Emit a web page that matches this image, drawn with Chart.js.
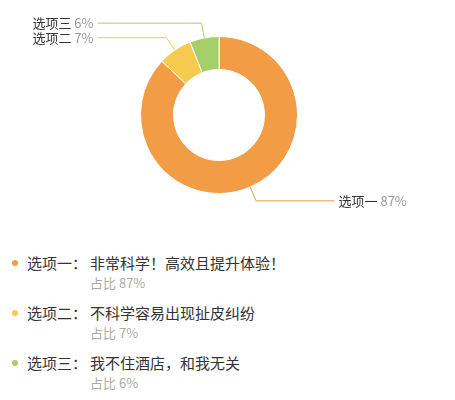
<!DOCTYPE html>
<html>
<head>
<meta charset="utf-8">
<script src="https://cdn.jsdelivr.net/npm/chart.js@4/dist/chart.umd.min.js"></script>
<style>
  body { margin: 0; background: #fff; font-family: "Noto Sans CJK SC", "Noto Sans", sans-serif; }
  #wrap { position: relative; width: 455px; height: 400px; overflow: hidden; }
  #chart-box { position: absolute; left: 0; top: 0; width: 455px; height: 230px; }
  #legend { position: absolute; left: 0; top: 253px; width: 455px; }
  .row { position: relative; height: 50px; }
  .dot { position: absolute; left: 12px; top: 7px; width: 6px; height: 6px; border-radius: 50%; }
  .name { position: absolute; left: 27px; top: 0; line-height: 20px; font-size: 15px; color: #333; }
  .desc { position: absolute; left: 90px; top: 0; line-height: 20px; font-size: 15px; color: #333; }
  .share { position: absolute; left: 90px; top: 20px; line-height: 20px; font-size: 13px; color: #aaa; }
</style>
</head>
<body>
<div id="wrap">
  <div id="chart-box"><canvas id="pie"></canvas></div>
  <div id="legend"></div>
</div>
<script>
const categories = ['选项一', '选项二', '选项三'];
const descriptions = ['非常科学！高效且提升体验！', '不科学容易出现扯皮纠纷', '我不住酒店，和我无关'];
const shares = [87, 7, 6];
const colors = ['#F29C45', '#F6C94F', '#A6CF6A'];

// leader lines + outside labels, placed from the arc geometry
const outsideLabels = {
    id: 'outsideLabels',
    afterDatasetsDraw(chart) {
        const ctx = chart.ctx;
        const arcs = chart.getDatasetMeta(0).data;
        const items = arcs.map((arc, i) => {
            const p = arc.getProps(['x', 'y', 'startAngle', 'endAngle', 'outerRadius'], true);
            const mid = (p.startAngle + p.endAngle) / 2;
            const r2 = p.outerRadius + 15;
            return {
                i: i,
                cx: p.x,
                r: p.outerRadius,
                x1: p.x + Math.cos(mid) * p.outerRadius,
                y1: p.y + Math.sin(mid) * p.outerRadius,
                x2: p.x + Math.cos(mid) * r2,
                y2: p.y + Math.sin(mid) * r2,
                right: Math.cos(mid) >= 0
            };
        });

        // keep labels on the same side from overlapping
        [true, false].forEach(side => {
            const group = items.filter(it => it.right === side).sort((a, b) => a.y2 - b.y2);
            for (let k = 1; k < group.length; k++) {
                if (group[k].y2 - group[k - 1].y2 < 14) group[k].y2 = group[k - 1].y2 + 14;
            }
        });

        ctx.save();
        ctx.font = '13px "Noto Sans CJK SC", sans-serif';
        ctx.textBaseline = 'middle';
        items.forEach(it => {
            const x3 = it.right ? it.cx + it.r + 37 : it.cx - it.r - 43;
            ctx.strokeStyle = colors[it.i];
            ctx.lineWidth = 1;
            ctx.beginPath();
            ctx.moveTo(it.x1, it.y1);
            ctx.lineTo(it.x2, it.y2);
            ctx.lineTo(x3, it.y2);
            ctx.stroke();

            const name = categories[it.i];
            const val = ' ' + shares[it.i] + '%';
            const wName = ctx.measureText(name).width;
            const wVal = ctx.measureText(val).width;
            let tx = it.right ? x3 + 4 : x3 - 4 - wName - wVal;
            ctx.textAlign = 'left';
            ctx.fillStyle = '#333';
            ctx.fillText(name, tx, it.y2);
            ctx.fillStyle = '#999';
            ctx.fillText(val, tx + wName, it.y2);
        });
        ctx.restore();
    }
};

new Chart(document.getElementById('pie'), {
    type: 'doughnut',
    data: {
        labels: categories,
        datasets: [{
            data: shares,
            backgroundColor: colors,
            borderColor: '#fff',
            borderWidth: 1
        }]
    },
    options: {
        responsive: true,
        maintainAspectRatio: false,
        animation: false,
        cutout: '58%',
        layout: { padding: { top: 36, bottom: 36, left: 140, right: 157 } },
        plugins: {
            legend: { display: false },
            tooltip: { enabled: false }
        }
    },
    plugins: [outsideLabels]
});

// legend list under the chart
const legend = document.getElementById('legend');
categories.forEach((c, i) => {
    const row = document.createElement('div');
    row.className = 'row';
    row.innerHTML =
        '<span class="dot" style="background:' + colors[i] + '"></span>' +
        '<span class="name">' + c + '：</span>' +
        '<span class="desc">' + descriptions[i] + '</span>' +
        '<span class="share">占比 ' + shares[i] + '%</span>';
    legend.appendChild(row);
});
</script>
</body>
</html>
